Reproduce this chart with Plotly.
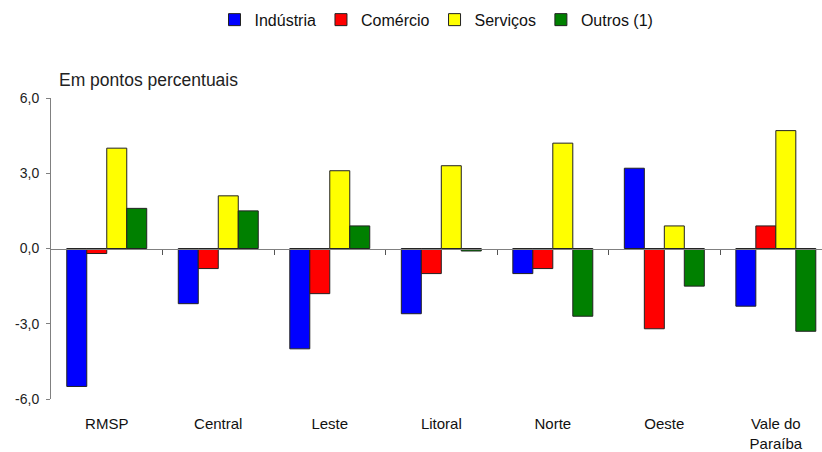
import plotly.graph_objects as go

# Regions and sector contributions (percentage points)
regioes = ["RMSP", "Central", "Leste", "Litoral", "Norte", "Oeste", "Vale do<br>Paraíba"]
industria = [-5.5, -2.2, -4.0, -2.6, -1.0, 3.2, -2.3]
comercio = [-0.2, -0.8, -1.8, -1.0, -0.8, -3.2, 0.9]
servicos = [4.0, 2.1, 3.1, 3.3, 4.2, 0.9, 4.7]
outros = [1.6, 1.5, 0.9, -0.1, -2.7, -1.5, -3.3]

y_ticks = [-6, -3, 0, 3, 6]
y_ticktext = [f"{v:.1f}".replace(".", ",") for v in y_ticks]

series = [
    ("Indústria", industria, "#0000FF"),
    ("Comércio", comercio, "#FF0000"),
    ("Serviços", servicos, "#FFFF00"),
    ("Outros (1)", outros, "#008000"),
]

xpos = list(range(len(regioes)))
x_range = [-0.5, 6.414]

fig = go.Figure()
for nome, vals, cor in series:
    fig.add_trace(go.Bar(
        x=xpos, y=vals, name=nome,
        marker=dict(color=cor, line=dict(color="#222222", width=1)),
        hoverinfo="skip",
    ))

# Invisible trace carrying the tick marks along the zero line
fig.add_trace(go.Scatter(x=[x_range[0]], y=[0], xaxis="x2", mode="markers",
                         marker=dict(opacity=0), showlegend=False, hoverinfo="skip"))

fig.update_layout(
    width=822, height=452,
    margin=dict(l=51, r=0, t=98, b=53),
    paper_bgcolor="white", plot_bgcolor="white",
    barmode="group", bargap=0.283, bargroupgap=0,
    font=dict(family="Liberation Sans, Arial, sans-serif", color="#222222"),
    showlegend=True,
    legend=dict(orientation="h", x=0.5, xanchor="center", y=1.26, yanchor="middle",
                font=dict(size=16, color="#111111"), itemwidth=30,
                traceorder="normal", tracegroupgap=0),
    xaxis=dict(range=x_range, tickvals=xpos, ticktext=regioes, showline=False,
               showgrid=False, zeroline=False, ticks="", ticklabelstandoff=14,
               tickfont=dict(size=15, color="#111111")),
    xaxis2=dict(range=x_range, overlaying="x", anchor="free", position=0.5,
                tickvals=[i + 0.5 for i in xpos[:-1]], showticklabels=False,
                ticks="outside", ticklen=5, tickcolor="#555555", showline=True,
                linecolor="#808080", linewidth=1, showgrid=False, zeroline=False),
    yaxis=dict(range=[-6, 6], tickvals=y_ticks, ticktext=y_ticktext, showgrid=False,
               zeroline=False, showline=True, linecolor="#808080", linewidth=1,
               ticks="outside", ticklen=4, tickcolor="#808080", ticklabelstandoff=4,
               tickfont=dict(size=14, color="#222222")),
    annotations=[dict(text="Em pontos percentuais", xref="paper", yref="paper",
                      x=0.0, xshift=6, y=1.061, xanchor="left", yanchor="middle",
                      showarrow=False, font=dict(size=17.5, color="#222222"))],
)

fig.write_html("out.html")
